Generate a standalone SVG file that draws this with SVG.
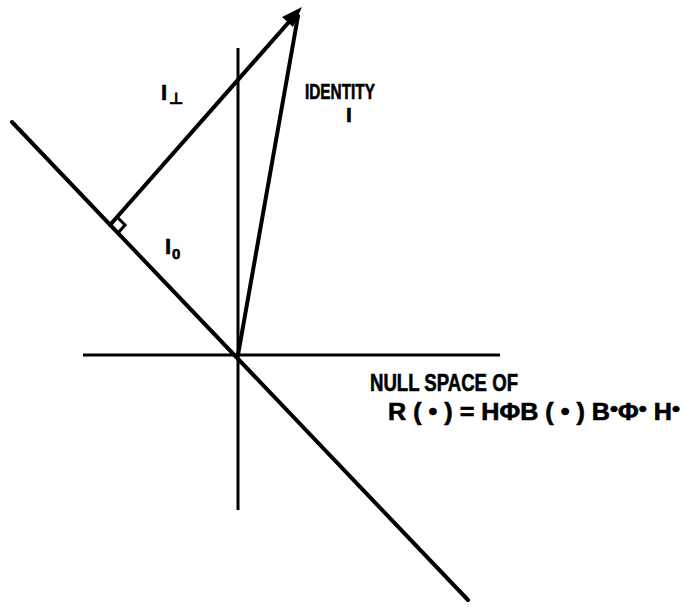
<svg xmlns="http://www.w3.org/2000/svg" width="686" height="607" viewBox="0 0 686 607">
<style>
.ln{stroke:#000;stroke-width:4;fill:none;stroke-linecap:round}
.ax{stroke:#000;stroke-width:3;fill:none}
.t{font-family:"Liberation Sans","DejaVu Sans",sans-serif;font-weight:bold;fill:#000;stroke:#000;stroke-width:0.6}
</style>
<rect width="686" height="607" fill="#fff"/>
<g id="connectors">
<line class="ax" x1="238" y1="48" x2="238" y2="510"/>
<line class="ax" x1="83" y1="355" x2="500" y2="355"/>
<line class="ln" x1="12" y1="122" x2="468" y2="600" stroke-width="5"/>
<line class="ln" x1="296" y1="14" x2="110" y2="225"/>
<line class="ln" x1="298" y1="16" x2="238" y2="355"/>
<polygon points="302,7 293,27 282,17" fill="#000"/>
<polygon points="110,225 117,217 125,225 118,233" fill="none" stroke="#000" stroke-width="3"/>
</g>
<g id="label-iperp">
<text class="t" x="161" y="100" font-size="22">I</text>
<text class="t" x="169" y="104" font-size="16">⊥</text>
</g>
<g id="label-identity">
<text class="t" x="305" y="99" font-size="22" textLength="70" lengthAdjust="spacingAndGlyphs">IDENTITY</text>
<text class="t" x="346" y="122" font-size="21">I</text>
</g>
<g id="label-i0">
<text class="t" x="165" y="254" font-size="22">I</text>
<text class="t" x="172" y="259" font-size="15">0</text>
</g>
<g id="label-null">
<text class="t" x="370" y="391" font-size="23" textLength="148" lengthAdjust="spacingAndGlyphs">NULL SPACE OF</text>
<text class="t" x="388" y="420" font-size="23" textLength="292" lengthAdjust="spacingAndGlyphs">R ( • ) = HΦB ( • ) B<tspan dy="-4" font-size="21">•</tspan><tspan dy="4">Φ</tspan><tspan dy="-4" font-size="21">•</tspan><tspan dy="4"> H</tspan><tspan dy="-4" font-size="21">•</tspan></text>
</g>
</svg>
